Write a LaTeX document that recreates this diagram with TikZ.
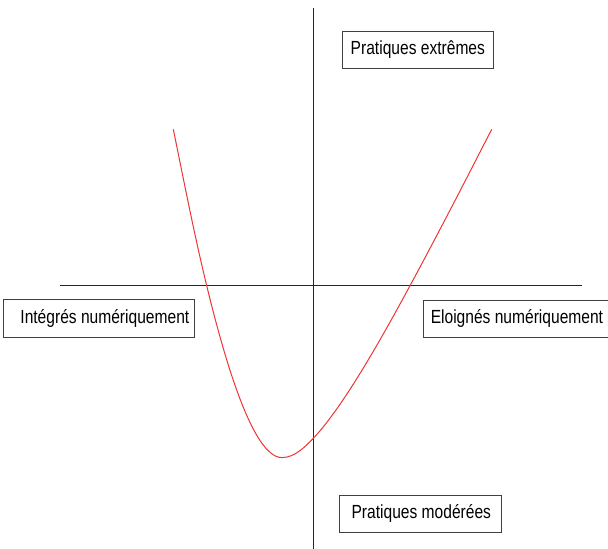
\documentclass[tikz,border=0pt]{standalone}
\usepackage{fontspec}
\setmainfont{Liberation Sans}[FakeStretch=0.82]
\definecolor{curvered}{RGB}{238,52,52}
\begin{document}
\begin{tikzpicture}[x=1pt,y=-1pt,
  lbl/.style={draw=black!75,line width=0.9pt,fill=white,inner ysep=0pt,minimum height=37.5pt,font=\fontsize{19}{22}\selectfont,text=black},
  axis/.style={draw=black!85,line width=1.3pt},
  curve/.style={draw=curvered,line width=1pt}]
\useasboundingbox (0,0) rectangle (608,549);
\coordinate (vt) at (313.5,7.5);
\coordinate (vb) at (313.5,549);
\coordinate (hl) at (60,285.5);
\coordinate (hr) at (581.5,285.5);
\draw[axis] (vt) -- (vb);
\draw[axis] (hl) -- (hr);
\draw[curve] (173.3,129.3)
  .. controls (184.0,181.5) and (194.1,233.9) .. (206.7,285.7)
  .. controls (223.3,353.7) and (252,457.6) .. (282,457.6)
  .. controls (294.3,457.6) and (304.8,447.2) .. (313.3,438.3)
  .. controls (344.4,405.7) and (386.2,329.7) .. (410,285.7)
  .. controls (438.0,234.0) and (464.9,181.6) .. (491.7,129.3);
\node[lbl,inner xsep=0pt,minimum width=150.3pt] (ext) at (417.85,50) {Pratiques extrêmes};
\node[lbl,inner xsep=5pt] (int) at (98.8,318.5) {\makebox[181pt][r]{Intégrés numériquement}};
\node[lbl,inner xsep=7pt,anchor=west] (elo) at (423.3,318.7) {Eloignés numériquement};
\node[lbl,inner xsep=10.7pt] (mod) at (420.35,513.7) {\makebox[141.3pt][r]{Pratiques modérées}};
\end{tikzpicture}
\end{document}
